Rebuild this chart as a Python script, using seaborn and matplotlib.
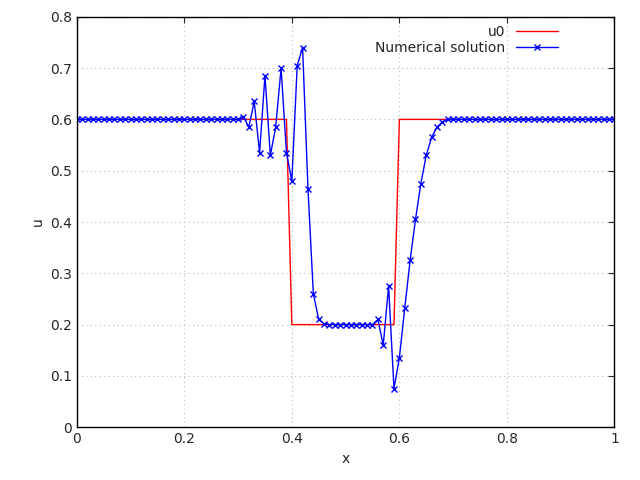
import numpy as np
import pandas as pd
import matplotlib
matplotlib.use("Agg")
import matplotlib.pyplot as plt
import seaborn as sns

x = [round(i * 0.01, 2) for i in range(101)]
u0 = [0.6] * 40 + [0.2] * 20 + [0.6] * 41
mid = [0.605, 0.585, 0.635, 0.535, 0.685, 0.53, 0.585, 0.70, 0.535, 0.48,
       0.705, 0.74, 0.465, 0.26, 0.21, 0.202, 0.2, 0.2, 0.2, 0.2,
       0.2, 0.2, 0.2, 0.2, 0.2, 0.21, 0.16, 0.275, 0.075, 0.135,
       0.232, 0.325, 0.405, 0.475, 0.53, 0.565, 0.585, 0.595, 0.6]
num = [0.6] * 31 + mid + [0.6] * (101 - 31 - len(mid))

df = pd.DataFrame({"x": x, "u0": u0, "num": num})

sns.set_style("white")
fig, ax = plt.subplots(figsize=(6.4, 4.8), dpi=100)
sns.lineplot(data=df, x="x", y="u0", ax=ax, color="red", lw=1, label="u0")
sns.lineplot(data=df, x="x", y="num", ax=ax, color="blue", lw=1, marker="x",
             markersize=5, markeredgecolor="blue", markeredgewidth=1,
             label="Numerical solution")
ax.set_xlim(0, 1)
ax.set_ylim(0, 0.8)
ax.set_xticks([0, 0.2, 0.4, 0.6, 0.8, 1])
ax.set_xticklabels(["0", "0.2", "0.4", "0.6", "0.8", "1"])
ax.set_yticks(np.arange(0, 0.81, 0.1))
ax.set_yticklabels(["0", "0.1", "0.2", "0.3", "0.4", "0.5", "0.6", "0.7", "0.8"])
ax.grid(True, color="#bbbbbb", linestyle=(0, (1, 3)), lw=0.8)
for s in ax.spines.values():
    s.set_color("black"); s.set_linewidth(1)
ax.tick_params(direction="in", length=4, top=True, right=True, labelsize=10)
ax.set_xlabel("x")
ax.set_ylabel("u")
ax.legend(loc="upper right", bbox_to_anchor=(0.91, 1.0), frameon=False,
          markerfirst=False, fontsize=10, handlelength=3, borderaxespad=0.2,
          labelspacing=0.1)
fig.subplots_adjust(left=0.12, right=0.96, top=0.965, bottom=0.11)
fig.savefig("out.png")
